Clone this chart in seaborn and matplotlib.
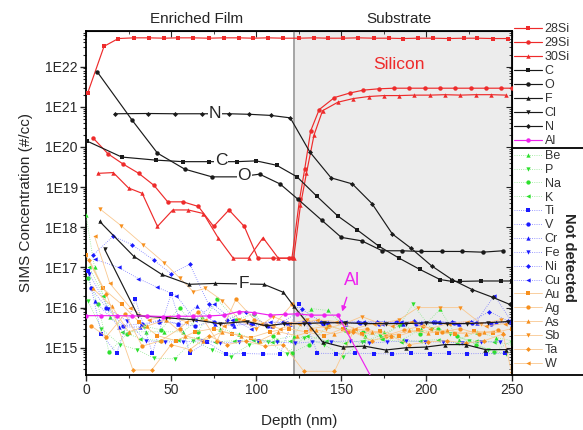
import math
import matplotlib
matplotlib.use('Agg')
import matplotlib.pyplot as plt
import matplotlib.ticker as mticker
from matplotlib.lines import Line2D
from matplotlib.patches import Rectangle
import seaborn as sns

sns.set_style('ticks')
plt.rcParams['font.family'] = ['Liberation Sans', 'DejaVu Sans']
plt.rcParams['font.size'] = 10

# ---- detected species ----
depth_28si = [1, 10.6, 19, 28, 37, 46, 54, 63, 72, 81, 90, 98, 107, 116, 125, 134, 142,
              151, 160, 169, 178, 186, 195, 204, 213, 222, 230, 239, 248]
si28 = [2.2e21, 3.2e22, 5.0e22, 5.2e22, 5.2e22, 5.1e22, 5.2e22, 5.2e22, 5.1e22, 5.2e22,
        5.2e22, 5.1e22, 5.2e22, 5.1e22, 5.1e22, 5.2e22, 5.1e22, 5.1e22, 5.2e22, 5.1e22,
        5.1e22, 5.0e22, 5.1e22, 5.1e22, 5.0e22, 5.1e22, 5.1e22, 5.0e22, 5.0e22]

depth_29si = [4, 13, 22, 31, 40, 48, 57, 66, 75, 84, 93, 101, 110, 119, 121, 125.5, 128.5,
              132, 137, 146, 155, 163, 172, 181, 190, 199, 208, 217, 226, 235, 244, 250]
si29 = [1.7e20, 6.7e19, 3.7e19, 2.2e19, 1.1e19, 4.3e18, 4.3e18, 3.3e18, 1.05e18, 2.7e18,
        1.05e18, 1.7e17, 1.7e17, 1.7e17, 1.7e17, 5e18, 2.8e19, 2.5e20, 8.5e20, 1.7e21,
        2.2e21, 2.6e21, 2.8e21, 2.9e21, 2.9e21, 2.9e21, 2.9e21, 2.9e21, 2.9e21, 2.9e21,
        2.9e21, 2.9e21]

depth_30si = [7, 16, 25, 33, 42, 51, 60, 69, 77.6, 86.5, 95.5, 104, 113, 122, 126, 129.5,
              134, 139, 148, 157, 166, 175, 184, 193, 202, 211, 220, 229, 238, 247]
si30 = [2.2e19, 2.3e19, 9.5e18, 7e18, 1.05e18, 2.7e18, 2.7e18, 2.2e18, 5.5e17, 1.7e17,
        1.7e17, 5.5e17, 1.7e17, 1.7e17, 3.5e18, 2.2e19, 2.0e20, 8e20, 1.3e21, 1.6e21,
        1.8e21, 1.9e21, 1.9e21, 1.95e21, 1.95e21, 2.0e21, 1.95e21, 2.0e21, 2.0e21, 1.95e21]

depth_c = [0.6, 21, 41, 57, 72, 88.5, 100, 112, 124, 135.5, 148, 159.5, 172, 184, 196,
           208, 215, 220, 232, 244, 250]
carbon = [1.4e20, 5.6e19, 4.7e19, 4.3e19, 4.3e19, 4.3e19, 4.5e19, 3.5e19, 1.8e19, 6e18,
          1.9e18, 8.5e17, 3.4e17, 1.7e17, 9e16, 5e16, 4.5e16, 4.5e16, 4.6e16, 4.6e16, 4.6e16]

depth_o = [6.5, 27, 42, 58, 74, 90, 102, 114, 124.5, 138.5, 150, 162, 174, 185.5, 197,
           209, 221, 233, 245]
oxygen = [7.5e21, 4.7e20, 7e19, 2.8e19, 1.8e19, 1.8e19, 2.1e19, 1.2e19, 5e18, 1.5e18,
          5.6e17, 4.6e17, 2.6e17, 2.6e17, 2.5e17, 2.5e17, 2.5e17, 2.4e17, 2.6e17]

depth_f = [8, 28, 44.5, 60.5, 76, 104.5, 116, 122, 139, 151, 163.5, 176, 188, 199.5, 211,
           223, 234.7, 246.5, 250]
fluorine = [1.4e18, 1.9e17, 6.7e16, 3.8e16, 4e16, 3.8e16, 2.4e16, 1.1e16, 1.4e15, 1.04e15,
            1.1e15, 8.8e14, 1e15, 1.04e15, 1.2e15, 1.2e15, 9e14, 9e14, 9.5e14]

depth_cl = [11, 30.5, 47, 63, 78.5, 94.5, 106, 116.5, 128, 140, 152, 164, 176, 188, 200,
            212, 224, 236, 248]
chlorine = [2.8e17, 6.3e15, 5.6e15, 5e15, 4e15, 4.5e15, 3.5e15, 4e15, 4e15, 4.2e15, 4.2e15,
            4e15, 4e15, 4e15, 4.2e15, 4e15, 4e15, 4.2e15, 4.5e15]

depth_n = [17, 36.5, 52, 68, 84, 96, 108.5, 120, 131.5, 144, 156.5, 168, 180, 191, 203,
           215, 227, 239, 249]
nitrogen = [6.7e20, 6.8e20, 6.7e20, 6.7e20, 6.7e20, 6.5e20, 6.1e20, 5.3e20, 7.5e19, 1.7e19,
            1.2e19, 3.9e18, 6.8e17, 3e17, 1.1e17, 5e16, 2.8e16, 1.8e16, 1.2e16]

depth_al = [0, 9, 18, 27, 36, 45, 54, 63, 72, 81, 90, 99, 108, 117, 124, 132, 140, 148, 170]
aluminium = [6.3e15, 6.3e15, 6.3e15, 6.2e15, 6.2e15, 6.0e15, 6.1e15, 6.1e15, 6.2e15, 6.5e15,
             8e15, 7.5e15, 6.5e15, 6.8e15, 7e15, 6.5e15, 6.5e15, 6.5e15, 1.2e14]

# ---- not detected species ----
depth_be = [0, 5, 14, 25, 35, 46, 57, 68, 79, 90, 101, 112, 122, 132, 142, 153, 164, 175,
            186, 197, 208, 219, 230, 241, 250]
be = [2e18, 1e17, 6e15, 2.5e15, 2.5e15, 2.5e15, 2.5e15, 6e15, 3e15, 2.2e15, 1.5e15,
      1.6e15, 2e15, 9.5e15, 8.5e15, 3e15, 2e15, 2.5e15, 1.6e15, 3e15, 9e15, 1.6e15, 2.5e15,
      1.8e15, 1.5e15]
depth_p = [1, 9, 20, 30, 40, 52, 63, 74, 85, 96, 107, 118, 128, 140, 151, 162, 173, 184,
           192, 203, 214, 225, 236, 247]
p = [1.5e16, 3e15, 1.2e15, 9e14, 5.5e14, 5.3e14, 1.5e15, 9e14, 6e14, 1.2e15, 1.4e15, 7e14,
     1.8e15, 1.2e15, 6e14, 1.4e15, 2e15, 3.5e15, 1.2e16, 3e15, 2.2e15, 1.5e15, 9e14, 7e14]
depth_na = [1, 7, 13.5, 24, 34, 44, 55, 66, 77, 88, 99, 110, 121, 131, 142, 152, 163, 174,
            185, 196, 207, 218, 229, 240, 250]
na = [5.5e16, 1.2e16, 7.8e14, 2.2e15, 3.5e15, 2.8e15, 1e16, 2.5e15, 1.6e16, 5e15, 7e15,
      2e15, 7.5e14, 1.2e15, 3.5e15, 2.8e15, 2.5e15, 1.8e15, 4e15, 2.2e15, 3e15, 2e15,
      1.2e15, 8e14, 1.5e15]
depth_k = [2, 10, 21, 32, 43, 54, 65, 76, 87, 98, 109, 120, 130, 141, 152, 163, 174, 185,
           196, 207, 218, 229, 240, 250]
k = [1e17, 2e16, 2.5e15, 1.7e15, 1.5e15, 1.6e15, 1.8e15, 1.4e15, 1.5e15, 1.6e15, 1.4e15,
     1.5e15, 2e15, 1.5e15, 1.3e15, 1.5e15, 1.7e15, 1.4e15, 1.5e15, 1.6e15, 1.3e15, 1.5e15,
     1.4e15, 1.2e15]

depth_ti = [1, 9, 18, 29, 39, 50, 61, 71, 82, 93, 104, 114, 125, 136, 147, 158, 169, 180,
            191, 202, 213, 224, 235, 246]
ti = [8e16, 2.2e15, 7.3e14, 1.6e16, 7.3e14, 2.2e16, 7.5e14, 1.4e15, 7e14, 7.2e14, 7e14,
      7e14, 1.2e16, 7.3e14, 7.2e14, 7.3e14, 7.2e14, 7e14, 7.3e14, 7.2e14, 7.3e14, 7.1e14,
      7.2e14, 7.3e14]
depth_v = [3, 12, 22, 33, 43, 54, 64, 75, 86, 97, 107, 118, 128, 139, 150, 161, 172, 183,
           194, 205, 216, 227, 238, 249]
v = [3e16, 1e16, 3.5e15, 4e15, 4.5e15, 4e15, 3.5e15, 4.5e15, 4e15, 3.8e15, 3.5e15, 4.2e15,
     4.5e15, 4e15, 4.3e15, 4.2e15, 4e15, 4.4e15, 4e15, 4.3e15, 4.1e15, 4.2e15, 4e15, 4.3e15]
depth_cr = [5, 19.6, 31.5, 43, 54, 65, 76, 87, 98, 109, 120, 131, 142, 153, 164, 175, 186,
            197, 208, 219, 230, 241, 250]
cr = [1.5e16, 3.3e15, 3.3e15, 5e15, 4e15, 1.1e16, 4e15, 3.5e15, 4.2e15, 3.5e15, 4e15,
      4.5e15, 4.4e15, 4e15, 4.3e15, 4.5e15, 4e15, 4.2e15, 4.4e15, 3.8e15, 4.2e15, 4.5e15,
      4e15]
depth_fe = [2, 13, 24, 35, 46.5, 57, 68, 79, 90, 101, 112, 123, 133, 144, 155, 166, 177,
            188, 199, 210, 221, 232, 243]
fe = [7e16, 9.5e15, 4.6e15, 1.5e15, 1.4e15, 1.4e15, 1.5e15, 1.3e15, 1.4e15, 1.5e15, 1.4e15,
      1.3e15, 1.4e15, 1.4e15, 1.5e15, 1.3e15, 1.4e15, 1.5e15, 1.4e15, 1.4e15, 1.3e15,
      1.4e15, 1.4e15]
depth_ni = [4, 16, 27, 40, 50, 61, 72, 83, 94, 105, 116, 127, 138, 149, 160, 171, 182, 193,
            204, 215, 226, 237, 248]
ni = [2e17, 6e17, 3.7e17, 1.5e17, 7e16, 1.2e17, 1.2e16, 5e15, 8e15, 4e15, 4.5e15, 9e15,
      4.5e15, 4.5e15, 4.3e15, 4.5e15, 4.4e15, 4.6e15, 4.5e15, 4.3e15, 4.4e15, 8e15, 4.6e15]
depth_cu = [5, 19.4, 30.6, 42, 53, 64, 75, 86, 97, 108, 119, 130, 141, 152, 163, 174, 185,
            196, 207, 218, 229, 240, 250]
cu = [1.6e17, 1e17, 5.3e16, 3.2e16, 2e16, 5e15, 1.2e16, 5e15, 3e15, 4.5e15, 4e15, 4.5e15,
      4.2e15, 4.5e15, 4.3e15, 4e15, 4.4e15, 4.2e15, 4.5e15, 4e15, 4.3e15, 2e16, 4.5e15]

depth_au = [0, 10, 21, 31, 42, 53, 64, 75, 86, 97, 108, 119, 129, 140, 151, 162, 173, 184,
            195, 206, 217, 228, 239, 250]
au = [2e17, 3e16, 1.2e16, 4.5e15, 2e15, 1.5e15, 2.5e15, 3e15, 2.2e15, 1.8e15, 2.5e15, 3e15,
      2.5e15, 2e15, 3e15, 2.2e15, 2.6e15, 2e15, 2.8e15, 2.4e15, 2.2e15, 2.6e15, 2.3e15, 3e15]
depth_ag = [3, 12, 23, 33, 44, 55, 66, 77, 88, 99, 110, 121, 132, 143, 154, 165, 176, 187,
            198, 209, 220, 231, 242]
ag = [3.5e15, 1.9e15, 7e15, 1.1e15, 1.5e15, 3e15, 8e15, 1.5e15, 1.6e16, 5e15, 3.5e15,
      1.2e16, 3e15, 3.5e15, 2.5e15, 3e15, 2e15, 2.8e15, 3.5e15, 2.5e15, 3e15, 2.2e15, 2.8e15]
depth_as = [4, 15, 25, 36, 47, 58, 69, 80, 91, 102, 113, 124, 135, 146, 157, 168, 179, 190,
            201, 212, 223, 234, 245]
arsenic = [3e16, 1.1e16, 2.5e15, 3.5e15, 5e15, 2e15, 1.5e15, 2.5e15, 2e15, 1.5e15, 2.5e15,
           2e15, 2.8e15, 2.2e15, 3e15, 2.5e15, 2e15, 2.7e15, 2.3e15, 2.8e15, 2.2e15, 2.5e15,
           2.4e15]
depth_sb = [8, 20.6, 33.5, 46, 55, 63, 70, 80, 90, 100, 110, 120, 130, 141, 152, 162, 173,
            184, 195, 208, 220, 232, 244]
sb = [2.9e18, 1.1e18, 3.7e17, 1.3e17, 5.5e16, 2.5e16, 3e16, 1.5e16, 5e15, 3e15, 6e15, 4e15,
      5e15, 3e15, 4e15, 6e15, 4e15, 5e15, 1e16, 1e16, 1e16, 4e15, 5e15]
depth_ta = [2, 12, 27.6, 38.6, 50, 61, 72, 83, 94, 105, 116, 128, 146, 157, 168, 179, 190,
            201, 212, 223, 234, 245, 250]
ta = [1.5e17, 2.2e16, 2.8e14, 2.8e14, 1.2e15, 9e14, 2e15, 1.2e15, 1.5e15, 1.1e15, 1.2e15,
      2.6e14, 2.6e14, 2.5e15, 1.5e15, 2e15, 1.2e15, 1.4e15, 1.5e15, 1.3e15, 1.5e15, 2.2e15,
      2.5e14]
depth_w = [5, 14, 26, 37, 48, 59, 70, 81, 92, 103, 114, 125, 136, 147, 158, 169, 180, 191,
           202, 213, 224, 235, 246]
w = [6e17, 4e16, 1e16, 5e15, 6e15, 4.5e15, 5e15, 3.5e15, 5e15, 4e15, 3e15, 4e15, 5e15,
     4.5e15, 3e15, 4e15, 3.5e15, 4.5e15, 3e15, 4e15, 4.5e15, 3.5e15, 4e15]

RED, BLACK, MAG = '#ee2b2b', '#1a1a1a', '#ee22ee'
GREEN, BLUE, ORANGE = '#2de02d', '#1a1aff', '#f7901e'
GREEN_L, BLUE_L, ORANGE_L = '#8fe88f', '#7a7aff', '#f9c890'

detected = [
    ('28Si', depth_28si, si28, 's', RED),
    ('29Si', depth_29si, si29, 'o', RED),
    ('30Si', depth_30si, si30, '^', RED),
    ('C', depth_c, carbon, 's', BLACK),
    ('O', depth_o, oxygen, 'o', BLACK),
    ('F', depth_f, fluorine, '^', BLACK),
    ('Cl', depth_cl, chlorine, 'v', BLACK),
    ('N', depth_n, nitrogen, 'D', BLACK),
    ('Al', depth_al, aluminium, 'o', MAG),
]
not_detected = [
    ('Be', depth_be, be, '^', GREEN, GREEN_L, ':'),
    ('P', depth_p, p, 'v', GREEN, GREEN_L, ':'),
    ('Na', depth_na, na, 'o', GREEN, GREEN_L, ':'),
    ('K', depth_k, k, '<', GREEN, GREEN_L, ':'),
    ('Ti', depth_ti, ti, 's', BLUE, BLUE_L, ':'),
    ('V', depth_v, v, 'o', BLUE, BLUE_L, ':'),
    ('Cr', depth_cr, cr, '^', BLUE, BLUE_L, ':'),
    ('Fe', depth_fe, fe, 'v', BLUE, BLUE_L, ':'),
    ('Ni', depth_ni, ni, 'D', BLUE, BLUE_L, ':'),
    ('Cu', depth_cu, cu, '<', BLUE, BLUE_L, ':'),
    ('Au', depth_au, au, 's', ORANGE, ORANGE_L, '-'),
    ('Ag', depth_ag, ag, 'o', ORANGE, ORANGE_L, '-'),
    ('As', depth_as, arsenic, '^', ORANGE, ORANGE_L, '-'),
    ('Sb', depth_sb, sb, 'v', ORANGE, ORANGE_L, '-'),
    ('Ta', depth_ta, ta, 'D', ORANGE, ORANGE_L, '-'),
    ('W', depth_w, w, '<', ORANGE, ORANGE_L, '-'),
]


def msize(m, base):
    return base * 0.8 if m == 'D' else base


fig = plt.figure(figsize=(5.83, 4.30), dpi=100)
ax = fig.add_axes([86 / 583, 1 - 375 / 430, 425.5 / 583, 344 / 430])
ax.set_yscale('log')
ax.axvspan(122, 250, color='#ececec', zorder=0, lw=0)
ax.axvline(122, color='#a5a5a5', lw=1.4, zorder=1)

for name, xs, ys, m, mc, lc, ls in not_detected:
    sns.lineplot(x=xs, y=ys, ax=ax, color=lc, linestyle=ls, linewidth=0.6, marker=m,
                 markersize=msize(m, 3.1), markerfacecolor=mc, markeredgecolor=mc,
                 markeredgewidth=0, estimator=None, sort=False, zorder=3)

for name, xs, ys, m, c in detected:
    sns.lineplot(x=xs, y=ys, ax=ax, color=c, linewidth=0.85, marker=m,
                 markersize=msize(m, 3.2), markerfacecolor=c, markeredgecolor=c,
                 markeredgewidth=0, estimator=None, sort=False, zorder=5)

ax.set_xlim(0, 250)
ax.set_ylim(2.1e14, 7.7e22)
ax.xaxis.set_major_locator(mticker.MultipleLocator(50))
ax.xaxis.set_minor_locator(mticker.MultipleLocator(25))
ax.yaxis.set_major_locator(mticker.LogLocator(base=10, numticks=20))
ax.yaxis.set_minor_locator(mticker.LogLocator(base=10, subs=range(2, 10), numticks=20))
ax.yaxis.set_major_formatter(mticker.FuncFormatter(
    lambda val, pos: '1E%d' % round(math.log10(val))))
ax.yaxis.set_minor_formatter(mticker.NullFormatter())
ax.tick_params(which='major', direction='out', length=4, width=1, labelsize=10, pad=2)
ax.tick_params(which='minor', direction='out', length=2, width=0.8)
for s in ax.spines.values():
    s.set_linewidth(1.3)
    s.set_color('black')

top = ax.secondary_xaxis('top')
top.xaxis.set_major_locator(mticker.MultipleLocator(50))
top.xaxis.set_minor_locator(mticker.MultipleLocator(25))
top.tick_params(which='major', direction='in', length=4, labeltop=False)
top.tick_params(which='minor', direction='in', length=2)
right = ax.secondary_yaxis('right')
right.yaxis.set_major_locator(mticker.LogLocator(base=10, numticks=20))
right.yaxis.set_minor_locator(mticker.LogLocator(base=10, subs=range(2, 10), numticks=20))
right.tick_params(which='major', direction='in', length=4, labelright=False)
right.tick_params(which='minor', direction='in', length=2, labelright=False)

ax.set_xlabel('Depth (nm)', fontsize=11, labelpad=12)
ax.set_ylabel('SIMS Concentration (#/cc)', fontsize=11, labelpad=9)

lab_box = dict(facecolor='white', edgecolor='none', pad=0.6)
ax.text(76, 6.7e20, 'N', fontsize=12.5, ha='center', va='center', bbox=lab_box, zorder=6)
ax.text(79.5, 4.5e19, 'C', fontsize=12.5, ha='center', va='center', bbox=lab_box, zorder=6)
ax.text(93, 1.9e19, 'O', fontsize=12.5, ha='center', va='center', bbox=lab_box, zorder=6)
ax.text(92.5, 4e16, 'F', fontsize=12.5, ha='center', va='center', bbox=lab_box, zorder=6)
ax.text(184, 1.1e22, 'Silicon', fontsize=12.5, color=RED, ha='center', va='center', zorder=6)
ax.annotate('Al', xy=(150.5, 8e15), xytext=(156.5, 4.8e16), fontsize=13, color=MAG,
            ha='center', va='center', zorder=6,
            arrowprops=dict(arrowstyle='-|>', color=MAG, lw=1.0, mutation_scale=7,
                            shrinkA=4, shrinkB=0))

fig.text(197 / 583, 1 - 19 / 430, 'Enriched Film', ha='center', va='center', fontsize=11)
fig.text(399 / 583, 1 - 19 / 430, 'Substrate', ha='center', va='center', fontsize=11)

h1 = [Line2D([], [], color=c, lw=0.85, marker=m, markersize=msize(m, 3.2), markeredgewidth=0)
      for _, _, _, m, c in detected]
l1 = [d[0] for d in detected]
leg1 = fig.legend(h1, l1, loc='upper left', bbox_to_anchor=(514 / 583, 1 - 23 / 430),
                  frameon=False, fontsize=9, handlelength=2.2, handletextpad=0.25,
                  labelspacing=0.16, borderpad=0, borderaxespad=0)
for t in leg1.get_texts():
    t.set_color('#333333')

h2 = [Line2D([], [], color=lc, lw=0.6, linestyle=ls, marker=m, markersize=msize(m, 3.1),
             markerfacecolor=mc, markeredgecolor=mc, markeredgewidth=0)
      for _, _, _, m, mc, lc, ls in not_detected]
l2 = [d[0] for d in not_detected]
leg2 = fig.legend(h2, l2, loc='upper left', bbox_to_anchor=(514 / 583, 1 - 150 / 430),
                  frameon=False, fontsize=9, handlelength=2.2, handletextpad=0.25,
                  labelspacing=0.15, borderpad=0, borderaxespad=0)
for t in leg2.get_texts():
    t.set_color('#333333')

fig.add_artist(Rectangle((512 / 583, 1 - 375 / 430), 0.2, 227 / 430,
                         transform=fig.transFigure, fill=False, edgecolor='black',
                         lw=1.3, clip_on=False))
fig.text(569 / 583, 1 - 257 / 430, 'Not detected', rotation=-90, ha='center', va='center',
         fontsize=10.5, fontweight='bold')

fig.savefig('out.png', dpi=100)
